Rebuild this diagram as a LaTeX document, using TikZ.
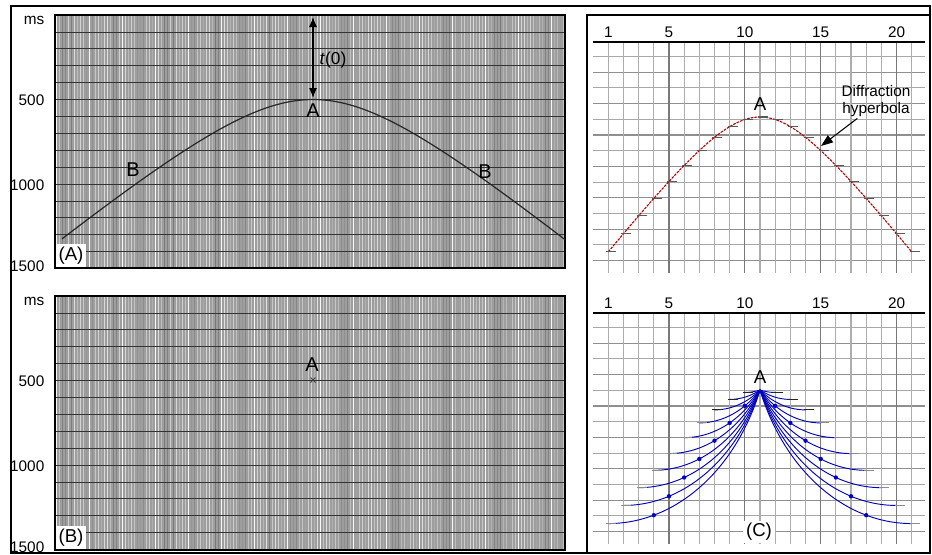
\documentclass[tikz,border=0pt]{standalone}
\usepackage{fontspec}
\setmainfont{Liberation Sans}
\usetikzlibrary{arrows.meta}

\begin{document}
\begin{tikzpicture}[x=0.75pt,y=-0.75pt,
  lbl/.style={font=\fontsize{11.5}{13}\selectfont},
  big/.style={font=\fontsize{15}{17}\selectfont},
  tag/.style={font=\fontsize{14}{16}\selectfont,fill=white,inner sep=2pt},
  hline/.style={black!80,line width=0.6},
  tickmark/.style={black!65,line width=0.9},
  arcline/.style={blue!75!black,line width=0.7}]
  \useasboundingbox (0,0) rectangle (932,554);

  % Outer frame and frame of panel (C)
  \draw[line width=1.5] (11,6) rectangle (930,553);
  \draw[line width=1.2] (587,15) rectangle (930,553);

  % Seismic sections (A) and (B)
  \foreach \top/\bot/\nm in {15/268/A, 296/550/B} {
    \fill[black!38] (55,\top) rectangle (565,\bot);
    \foreach \i in {0,...,169} {
      \pgfmathtruncatemacro{\g}{ifthenelse(mod(\i*13,11)==0,3,12+mod(\i*47+mod(mod(\i,17)*mod(\i,17),17)*7,42))}
      \draw[black!\g, line width=1.2] ({56.5+3*\i},\top) -- ({56.5+3*\i},\bot);
    }
    \foreach \k in {1,...,14}
      \draw[hline] (55,{\top+16.9*\k}) -- (565,{\top+16.9*\k});
    \draw[line width=1.2] (55,\top) rectangle (565,\bot);
    \node[tag, anchor=south west] (tag\nm) at (55.6,\bot-0.6) {(\nm)};
    % Time axis
    \node[lbl, anchor=east] (ms\nm) at (49,\top+5) {ms};
    \node[lbl, anchor=east] (t500\nm) at (49,\top+85) {500};
    \node[lbl, anchor=east] (t1000\nm) at (49,\top+170) {1000};
    \node[lbl, anchor=east] (t1500\nm) at (49,\top+251) {1500};
  }

  % Diffraction in (A)
  \draw[black!85, line width=0.9] plot[domain=-2.51:2.52, samples=90]
    ({313+100*\x}, {15+16.9*sqrt(25+23.88*\x*\x)});
  \coordinate (t0top) at (313,17);
  \coordinate (t0bot) at (313,98);
  \draw[{Latex[length=7.5pt,width=6pt]}-{Latex[length=7.5pt,width=6pt]}, line width=0.8] (t0top) -- (t0bot);
  \node[lbl, font=\fontsize{13}{15}\selectfont, anchor=west] (tzero) at (315,60) {\textit{t}(0)};
  \node[big] (apexA) at (313,111) {A};
  \node[big] (leftB) at (133,170) {B};
  \node[big] (rightB) at (485,172) {B};

  % Collapsed point in (B)
  \node[big] (apexB) at (312,365) {A};
  \draw[black!75, line width=0.7] (310.5,377.5) -- (315.5,382.5) (310.5,382.5) -- (315.5,377.5);

  % Grids of (C)
  \foreach \top/\nm in {42/up, 313/lo} {
    \foreach \k in {0,...,13} {
      \pgfmathtruncatemacro{\shade}{ifthenelse(mod(\k,2)==1,44,34)}
      \draw[black!\shade, line width=0.8] (593,{\top+14.5+15.7*\k}) -- (925,{\top+14.5+15.7*\k});
    }
    \foreach \c in {1,...,21} {
      \pgfmathtruncatemacro{\shade}{ifthenelse(mod(\c,5)==0,52,32)}
      \draw[black!\shade, line width=0.8] ({608.3+15.17*(\c-1)},\top) -- ({608.3+15.17*(\c-1)},\top+231);
    }
    \draw[line width=1.5] (593,\top) -- (925,\top);
    \foreach \c in {1,5,10,15,20}
      \node[lbl] (col\c\nm) at ({608.3+15.17*(\c-1)},\top-10) {\c};
  }

  % Diffraction hyperbola with trace picks
  \draw[red!70!black, dash pattern=on 2pt off 0.8pt, line width=0.8] plot[domain=-10:10, samples=81]
    ({760+15.17*\x}, {42+10*sqrt(56.25+3.8416*\x*\x)});
  \foreach \d in {-10,...,10}
    \draw[tickmark] ({760+15.17*\d-2}, {42+10*sqrt(56.25+3.8416*\d*\d)}) -- ++(10,0);
  \node[big, font=\fontsize{14}{16}\selectfont] (apexC) at (760,104) {A};
  \node[lbl, align=center, inner sep=1pt] (difflab) at (876,101) {Diffraction\\hyperbola};
  \coordinate (difftip) at (821,146);
  \draw[-{Triangle[length=9pt,width=6.5pt]}, line width=0.8] ([xshift=-14pt]difflab.south) -- (difftip);

  % Migration arcs through A
  \foreach \d in {-10,...,-1,1,2,...,10} {
    \pgfmathsetmacro{\rad}{10*sqrt(59.29+3.8416*\d*\d)}
    \pgfmathsetmacro{\tang}{atan2(-19.6*\d,77)}
    \draw[arcline] plot[domain=0:1, samples=40]
      ({760+15.17*\d+0.774*\rad*sin(\x*\tang)}, {313+\rad*cos(\x*\tang)});
    \pgfmathtruncatemacro{\shade}{ifthenelse(abs(\d)<4,85,45)}
    \draw[black!\shade, line width=0.9] ({760+15.17*\d-2}, {313+\rad}) -- ++(10,0);
  }
  \foreach \d in {-10,...,-4,4,5,...,10} {
    \pgfmathsetmacro{\dm}{\d-3*sign(\d)}
    \fill[blue!80!black] ({760+15.17*\dm}, {313+10*sqrt(24.72+3.8416*\d*\d)}) circle (2.2);
  }
  \node[big, font=\fontsize{14}{16}\selectfont] (apexD) at (760,377) {A};
  \node[tag] (tagC) at (759,532) {(C)};
\end{tikzpicture}
\end{document}
